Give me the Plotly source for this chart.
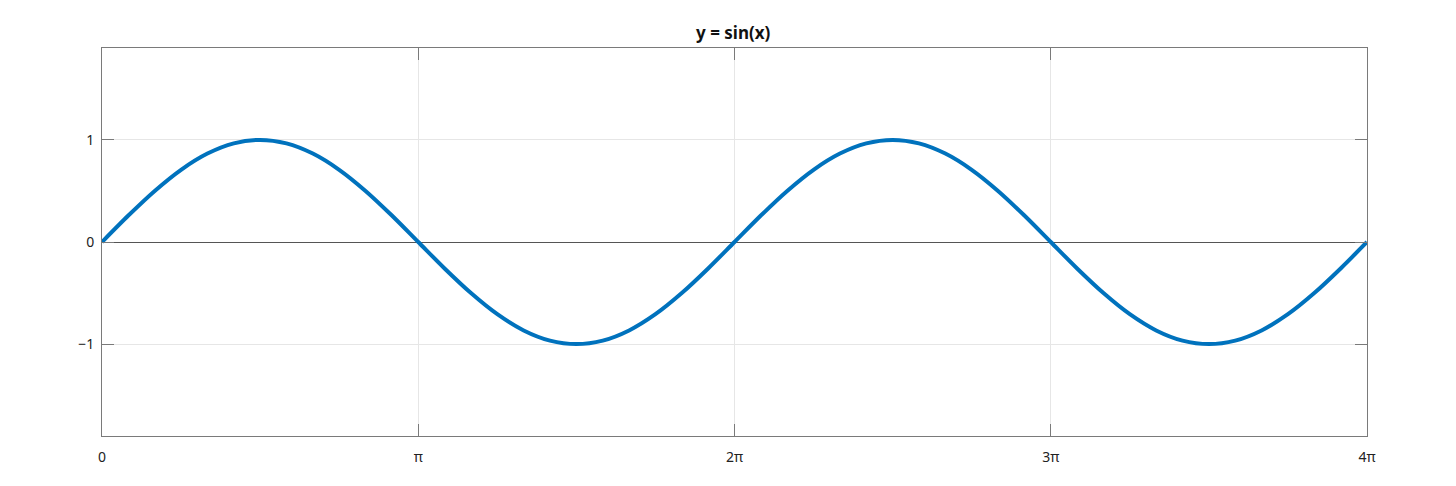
import plotly.graph_objects as go
import math

y_vals = [0.0, 0.259, 0.5, 0.707, 0.866, 0.966, 1.0, 0.966, 0.866, 0.707, 0.5, 0.259,
          0.0, -0.259, -0.5, -0.707, -0.866, -0.966, -1.0, -0.966, -0.866, -0.707, -0.5, -0.259,
          0.0, 0.259, 0.5, 0.707, 0.866, 0.966, 1.0, 0.966, 0.866, 0.707, 0.5, 0.259,
          0.0, -0.259, -0.5, -0.707, -0.866, -0.966, -1.0, -0.966, -0.866, -0.707, -0.5, -0.259,
          0.0]
x_steps = list(range(len(y_vals)))  # multiples of pi/12
x_vals = [k * math.pi / 12 for k in x_steps]

x_tick_vals = [0, math.pi, 2 * math.pi, 3 * math.pi, 4 * math.pi]
x_tick_text = ["0", "π", "2π", "3π", "4π"]
y_tick_vals = [-1, 0, 1]
y_tick_text = ["−1", "0", "1"]

fig = go.Figure()
fig.add_trace(go.Scatter(x=x_vals, y=y_vals, mode="lines",
                         line=dict(color="#0072BD", width=4, shape="spline", smoothing=0.8),
                         showlegend=False))

axis_common = dict(showline=True, linecolor="#7a7a7a", linewidth=1, mirror="allticks",
                   ticks="inside", ticklen=12, tickcolor="#7a7a7a", tickwidth=1,
                   showgrid=True, gridcolor="#e6e6e6", gridwidth=1,
                   tickfont=dict(family="Noto Sans", size=14, color="#222"))

fig.update_xaxes(range=[0, 4 * math.pi], tickvals=x_tick_vals, ticktext=x_tick_text,
                 zeroline=False, ticklabelstandoff=8, **axis_common)
fig.update_yaxes(range=[-1.9, 1.9], tickvals=y_tick_vals, ticktext=y_tick_text,
                 zeroline=True, zerolinecolor="#555555", zerolinewidth=1,
                 ticklabelstandoff=4, **axis_common)

fig.update_layout(
    width=1456, height=486,
    margin=dict(l=94, r=97, t=40, b=58),
    paper_bgcolor="white", plot_bgcolor="white",
    title=dict(text="<b>y = sin(x)</b>", x=(94 + 1359) / 2 / 1456, xanchor="center",
               y=1 - 25 / 486, yanchor="middle", xref="paper",
               font=dict(family="Noto Sans", size=17, color="#111")),
)

fig.write_html("out.html")
